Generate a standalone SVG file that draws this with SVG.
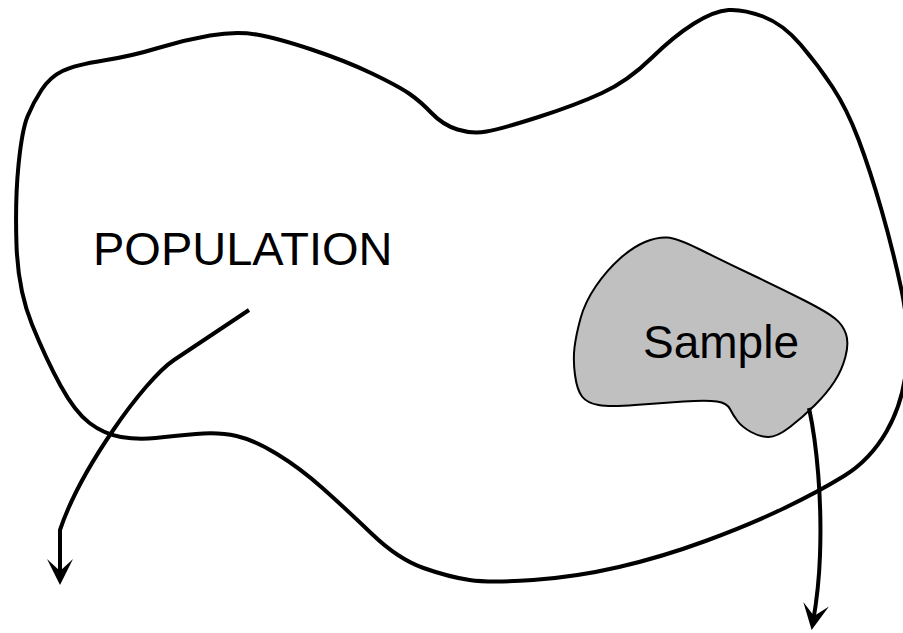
<svg xmlns="http://www.w3.org/2000/svg" width="903" height="633" viewBox="0 0 903 633">
<style>
.blob{fill:none;stroke:#000;stroke-width:4;stroke-linejoin:round}
.sample{fill:#c0c0c0;stroke:#000;stroke-width:2;stroke-linejoin:round}
.lbl{font-family:"Liberation Sans",Arial,sans-serif;font-size:46px;fill:#000}
.conn{fill:none;stroke:#000;stroke-width:4;marker-end:url(#ah)}
</style>
<defs>
<marker id="ah" markerUnits="userSpaceOnUse" viewBox="-28 -15 30 30" markerWidth="30" markerHeight="30" refX="-8" refY="0" orient="auto">
<path d="M0,0 L-26,-13 L-14,0 L-26,13 Z" fill="#000"/>
</marker>
</defs>
<g id="population">
<path class="blob" d="M32,324.5 Q18,290 16.5,245 Q15,200 18.5,165 Q22,130 27.5,116.5 Q33,103 41.5,90 Q50,77 62.5,71 Q75,65 103.5,60.5 Q132,56 158,48 Q184,40 210,35.5 Q236,31 256.5,34.5 Q277,38 311.5,49.5 Q346,61 372,73.5 Q398,86 409,93.5 Q420,101 431.5,113 Q443,125 457.5,129.5 Q472,134 486.5,131.5 Q501,129 538.5,117 Q576,105 602,93 Q628,81 651,58.5 Q674,36 694,23.5 Q714,11 728.5,10 Q743,9 763,16.5 Q783,24 800.5,44.5 Q818,65 832.5,87 Q847,109 858.5,139.5 Q870,170 881.5,210 Q893,250 901.5,290 Q910,330 906.5,366.5 Q903,403 886.5,431.5 Q870,460 844,476 Q818,492 783.5,508.5 Q749,525 705.5,541 Q662,557 619,567 Q576,577 533,580 Q490,583 469.5,580 Q449,577 423.5,568 Q398,559 372,534 Q346,509 323,488.5 Q300,468 277,454 Q254,440 236.5,436 Q219,432 196,434 Q173,436 155.5,438 Q138,440 121,437 Q104,434 89.5,423 Q75,412 60.5,385.5 Q46,359 32,324.5 Z"/>
<text class="lbl" x="93" y="265" style="font-size:47px">POPULATION</text>
</g>
<g id="sample">
<path class="sample" d="M575,375 Q573,360 574.5,347.5 Q576,335 580.5,318.5 Q585,302 596,286 Q607,270 620,258.5 Q633,247 645,242 Q657,237 667,237.5 Q677,238 702,250.5 Q727,263 753.5,275.5 Q780,288 803.5,300 Q827,312 835,318.5 Q843,325 846,334 Q849,343 845.5,356.5 Q842,370 834.5,381.5 Q827,393 815,405 Q803,417 790,427 Q777,437 768.5,437 Q760,437 751,432 Q742,427 737.5,421 Q733,415 730,409 Q727,403 717,401.5 Q707,400 683.5,401.5 Q660,403 635,405 Q610,407 598.5,405 Q587,403 582,396.5 Q577,390 575,375 Z"/>
<text class="lbl" x="643" y="358">Sample</text>
</g>
<g id="connectors">
<path class="conn" d="M249,310 L174,360 C144,380 80,470 60,530 L60,577"/>
<path class="conn" d="M809,408 C817,445 822,500 820,555 C819,585 816,605 813,622"/>
</g>
</svg>
